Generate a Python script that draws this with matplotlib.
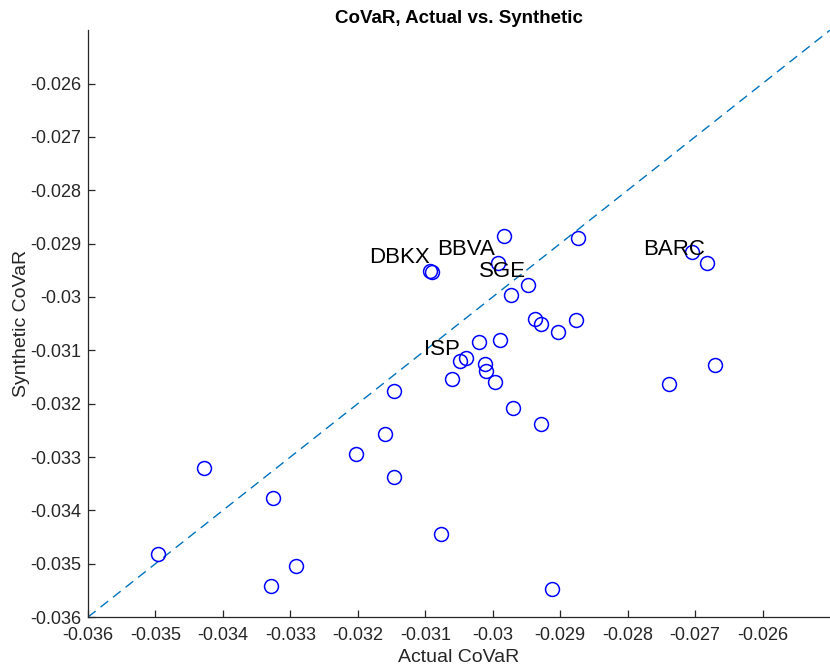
import numpy as np
import matplotlib
matplotlib.use('Agg')
import matplotlib.pyplot as plt

# Actual vs synthetic CoVaR for each bank
actual = [-0.02983, -0.02873, -0.03093, -0.03090, -0.02992, -0.02948, -0.02973,
          -0.02937, -0.02929, -0.02877, -0.02903, -0.03021, -0.02989, -0.03039,
          -0.03048, -0.03012, -0.03010, -0.03061, -0.02996, -0.03147, -0.02970,
          -0.02928, -0.03160, -0.02704, -0.02682, -0.02671, -0.02738, -0.03428,
          -0.03496, -0.03325, -0.03329, -0.03291, -0.03203, -0.03147, -0.03076,
          -0.02912]
synthetic = [-0.02886, -0.02889, -0.02951, -0.02953, -0.02936, -0.02978, -0.02997,
             -0.03041, -0.03051, -0.03043, -0.03066, -0.03084, -0.03080, -0.03114,
             -0.03121, -0.03126, -0.03139, -0.03154, -0.03160, -0.03177, -0.03208,
             -0.03239, -0.03256, -0.02916, -0.02936, -0.03127, -0.03163, -0.03321,
             -0.03482, -0.03377, -0.03541, -0.03505, -0.03294, -0.03338, -0.03445,
             -0.03548]

# named banks and where their labels sit
label_names = ['DBKX', 'BBVA', 'SGE', 'BARC', 'ISP']
label_x = [-0.03183, -0.03083, -0.03020, -0.02777, -0.03102]
label_y = [-0.02927, -0.02912, -0.02953, -0.02912, -0.03098]

lim = [-0.036, -0.025]
ticks = np.arange(-0.036, -0.0255, 0.001)

plt.rcParams['font.family'] = ['Liberation Sans', 'DejaVu Sans']

fig = plt.figure(figsize=(8.3, 6.7), dpi=100)
ax = fig.add_axes([0.106, 0.079, 0.894, 0.876])

ax.plot(lim, lim, linestyle=(0, (7, 4.5)), color='#0072BD', linewidth=1.0)
ax.plot(actual, synthetic, 'o', markerfacecolor='none', markeredgecolor='#0000FF',
        markersize=10, markeredgewidth=1.1, linestyle='none')

for name, tx, ty in zip(label_names, label_x, label_y):
    ax.text(tx, ty, name, fontsize=16, ha='left', va='center', color='black')

ax.set_xlim(lim)
ax.set_ylim(lim)
ax.set_xticks(ticks)
ax.set_yticks(ticks)
ax.set_xticklabels([f'{t:g}' for t in ticks])
ax.set_yticklabels([f'{t:g}' for t in ticks])

for side in ['top', 'right']:
    ax.spines[side].set_visible(False)
for side in ['left', 'bottom']:
    ax.spines[side].set_color('#262626')
    ax.spines[side].set_linewidth(0.9)
ax.tick_params(direction='in', length=5, width=0.9, colors='#262626',
               labelsize=13, pad=5)
ax.tick_params(axis='x', pad=7)

ax.set_xlabel('Actual CoVaR', fontsize=14, color='#262626', labelpad=4)
ax.set_ylabel('Synthetic CoVaR', fontsize=14, color='#262626', labelpad=0)
ax.set_title('CoVaR, Actual vs. Synthetic', fontsize=13.5, fontweight='bold', pad=5)

fig.savefig('out.png', dpi=100)
